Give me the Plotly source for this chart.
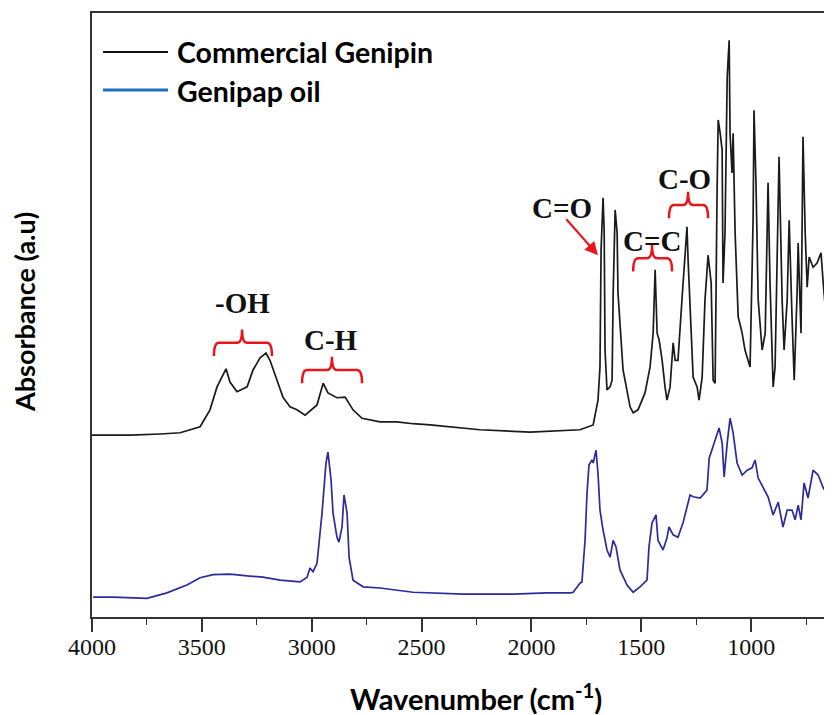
import plotly.graph_objects as go

# Commercial Genipin (black) spectrum
gen_wn = [4000, 3827, 3690, 3599, 3508, 3463, 3431, 3408, 3390, 3372, 3340, 3294, 3267, 3235, 3208, 3190,
          3158, 3131, 3099, 3067, 3030, 2976, 2948, 2940, 2926, 2885, 2848, 2812, 2771, 2689, 2612, 2539,
          2461, 2234, 2006, 1779, 1719, 1697, 1688, 1683, 1674, 1669, 1665, 1656, 1642, 1633, 1628, 1619,
          1610, 1606, 1597, 1583, 1551, 1537, 1515, 1483, 1460, 1446, 1437, 1428, 1419, 1405, 1392, 1383,
          1369, 1355, 1346, 1333, 1314, 1301, 1292, 1287, 1278, 1264, 1246, 1237, 1223, 1210, 1196, 1182,
          1173, 1164, 1155, 1150, 1141, 1132, 1128, 1119, 1109, 1100, 1096, 1087, 1082, 1073, 1059, 1041,
          1028, 1005, 996, 991, 987, 978, 968, 950, 936, 923, 914, 900, 891, 873, 859, 850, 836, 827, 814,
          804, 791, 786, 773, 764, 754, 745, 736, 718, 700, 682, 672, 654, 632]
gen_abs = [0.301, 0.301, 0.303, 0.305, 0.315, 0.343, 0.381, 0.397, 0.411, 0.389, 0.373, 0.381, 0.409, 0.429,
           0.437, 0.425, 0.392, 0.364, 0.348, 0.343, 0.334, 0.351, 0.387, 0.380, 0.371, 0.363, 0.364, 0.343,
           0.329, 0.323, 0.323, 0.320, 0.318, 0.310, 0.306, 0.310, 0.318, 0.359, 0.414, 0.608, 0.694, 0.641,
           0.442, 0.376, 0.381, 0.392, 0.536, 0.674, 0.636, 0.536, 0.492, 0.409, 0.348, 0.338, 0.343, 0.371,
           0.414, 0.470, 0.575, 0.470, 0.459, 0.425, 0.381, 0.359, 0.381, 0.454, 0.425, 0.425, 0.530, 0.608,
           0.646, 0.591, 0.525, 0.397, 0.381, 0.359, 0.397, 0.525, 0.599, 0.553, 0.392, 0.387, 0.707, 0.823,
           0.801, 0.773, 0.553, 0.636, 0.894, 0.955, 0.801, 0.735, 0.801, 0.636, 0.497, 0.470, 0.442, 0.414,
           0.570, 0.662, 0.839, 0.719, 0.525, 0.442, 0.470, 0.719, 0.553, 0.381, 0.414, 0.762, 0.525, 0.442,
           0.525, 0.657, 0.497, 0.392, 0.536, 0.619, 0.470, 0.795, 0.636, 0.546, 0.596, 0.579, 0.586, 0.603,
           0.553, 0.475, 0.447]

# Genipap oil (blue) spectrum
oil_wn = [3995, 3904, 3750, 3659, 3568, 3508, 3449, 3372, 3294, 3222, 3144, 3053, 3021, 3008, 2994, 2976,
          2953, 2935, 2926, 2912, 2903, 2885, 2876, 2862, 2853, 2839, 2830, 2812, 2766, 2689, 2539, 2461,
          2311, 2084, 1929, 1824, 1810, 1779, 1770, 1756, 1747, 1738, 1724, 1719, 1706, 1697, 1688, 1674,
          1656, 1642, 1628, 1615, 1597, 1565, 1537, 1506, 1474, 1465, 1451, 1433, 1424, 1401, 1383, 1374,
          1355, 1333, 1310, 1278, 1264, 1232, 1201, 1191, 1164, 1146, 1132, 1123, 1109, 1096, 1082, 1064,
          1041, 1018, 996, 982, 968, 946, 923, 900, 877, 855, 836, 814, 800, 786, 773, 759, 741, 718, 695,
          672, 641, 632]
oil_abs = [0.033, 0.033, 0.031, 0.040, 0.053, 0.065, 0.070, 0.071, 0.068, 0.066, 0.061, 0.058, 0.066, 0.081,
           0.075, 0.089, 0.172, 0.255, 0.273, 0.227, 0.172, 0.132, 0.124, 0.149, 0.202, 0.172, 0.099, 0.061,
           0.050, 0.048, 0.041, 0.040, 0.038, 0.038, 0.040, 0.040, 0.041, 0.056, 0.058, 0.127, 0.205, 0.252,
           0.260, 0.255, 0.276, 0.238, 0.177, 0.144, 0.111, 0.099, 0.127, 0.116, 0.078, 0.053, 0.041, 0.050,
           0.061, 0.116, 0.156, 0.169, 0.127, 0.111, 0.131, 0.149, 0.136, 0.132, 0.156, 0.202, 0.199, 0.197,
           0.210, 0.263, 0.293, 0.313, 0.288, 0.232, 0.288, 0.329, 0.305, 0.255, 0.235, 0.243, 0.247, 0.260,
           0.230, 0.214, 0.199, 0.169, 0.190, 0.149, 0.177, 0.177, 0.161, 0.185, 0.161, 0.222, 0.197, 0.243,
           0.235, 0.214, 0.197, 0.197]

x_ticks = [4000, 3500, 3000, 2500, 2000, 1500, 1000]
x_tick_labels = ["4000", "3500", "3000", "2500", "2000", "1500", "1000"]

# Band annotations: label, label position (wn, abs), bracket (left wn, right wn, centre wn, level)
band_labels = ["-OH", "C-H", "C=C", "C-O"]
band_label_x = [3313, 2912, 1451, 1305]
band_label_y = [0.520, 0.459, 0.623, 0.725]
band_left = [3445, 3044, 1537, 1374]
band_right = [3181, 2771, 1360, 1196]
band_center = [3317, 2908, 1451, 1287]
band_level = [0.454, 0.409, 0.594, 0.682]

RED = "#e8161c"
SERIF = "Liberation Serif"
SANS = "Lato"

fig = go.Figure()
fig.add_trace(go.Scatter(x=gen_wn, y=gen_abs, mode="lines", name="Commercial Genipin",
                         line=dict(color="#1a1a1a", width=1.7), showlegend=False))
fig.add_trace(go.Scatter(x=oil_wn, y=oil_abs, mode="lines", name="Genipap oil",
                         line=dict(color="#2b2b9e", width=1.7), showlegend=False))

shapes = []
dx = 22
for l, r, c, lv in zip(band_left, band_right, band_center, band_level):
    end = lv - 0.022
    notch = lv + 0.022
    path = (f"M {l},{end} Q {l},{lv} {l - dx},{lv} L {c + dx},{lv} Q {c},{lv} {c},{notch} "
            f"Q {c},{lv} {c - dx},{lv} L {r + dx},{lv} Q {r},{lv} {r},{end}")
    shapes.append(dict(type="path", xref="x", yref="y", path=path,
                       line=dict(color=RED, width=2.5)))

# legend lines
shapes.append(dict(type="line", xref="paper", yref="paper", x0=0.0149, x1=0.1027, y0=0.9354, y1=0.9354,
                   line=dict(color="#111111", width=2)))
shapes.append(dict(type="line", xref="paper", yref="paper", x0=0.0149, x1=0.1027, y0=0.8725, y1=0.8725,
                   line=dict(color="#1f6fc4", width=3)))

annotations = []
for t, x, y in zip(band_labels, band_label_x, band_label_y):
    annotations.append(dict(x=x, y=y, xref="x", yref="y", text=f"<b>{t}</b>", showarrow=False,
                            font=dict(family=SERIF, size=29, color="#111111")))
annotations.append(dict(x=1861, y=0.677, xref="x", yref="y", text="<b>C=O</b>", showarrow=False,
                        font=dict(family=SERIF, size=29, color="#111111")))
annotations.append(dict(x=1697, y=0.599, ax=1847, ay=0.661, xref="x", yref="y", axref="x", ayref="y",
                        text="", showarrow=True, arrowhead=2, arrowsize=1.2, arrowwidth=2.2, arrowcolor=RED))
annotations.append(dict(x=0.1122, y=0.9354, xref="paper", yref="paper", xanchor="left", yanchor="middle",
                        text="<b>Commercial Genipin</b>", showarrow=False,
                        font=dict(family=SANS, size=28.5, color="#000000")))
annotations.append(dict(x=0.1122, y=0.8709, xref="paper", yref="paper", xanchor="left", yanchor="middle",
                        text="<b>Genipap oil</b>", showarrow=False,
                        font=dict(family=SANS, size=28.5, color="#000000")))
annotations.append(dict(x=0.519, y=-0.1325, xref="paper", yref="paper", xanchor="center", yanchor="middle",
                        text="<b>Wavenumber (cm<sup>-1</sup>)</b>", showarrow=False,
                        font=dict(family=SANS, size=29, color="#000000")))
annotations.append(dict(x=-0.0905, y=0.505, xref="paper", yref="paper", xanchor="center", yanchor="middle",
                        text="<b>Absorbance (a.u)</b>", textangle=-90, showarrow=False,
                        font=dict(family=SANS, size=27, color="#000000")))

# The page adds an 8px body margin, so the figure is 8px smaller than the window.
fig.update_layout(
    width=824, height=707,
    margin=dict(l=84, r=0, t=5, b=98),
    paper_bgcolor="white", plot_bgcolor="white",
    shapes=shapes, annotations=annotations,
    showlegend=False,
    xaxis=dict(range=[4000, 632], showgrid=False, zeroline=False, showline=True, mirror=True,
               linecolor="#333333", linewidth=1.6, ticks="outside", ticklen=13, tickwidth=1.6,
               tickcolor="#333333", tickvals=x_ticks, ticktext=x_tick_labels, ticklabelstandoff=-6,
               tickfont=dict(family=SERIF, size=24, color="#111111"),
               minor=dict(ticks="outside", ticklen=6, tickwidth=1.4, tickcolor="#333333", dtick=250,
                          tick0=0, showgrid=False)),
    yaxis=dict(range=[0, 1], showgrid=False, zeroline=False, showline=True, mirror=False,
               linecolor="#333333", linewidth=1.6, ticks="", showticklabels=False),
)

fig.write_html("out.html")
